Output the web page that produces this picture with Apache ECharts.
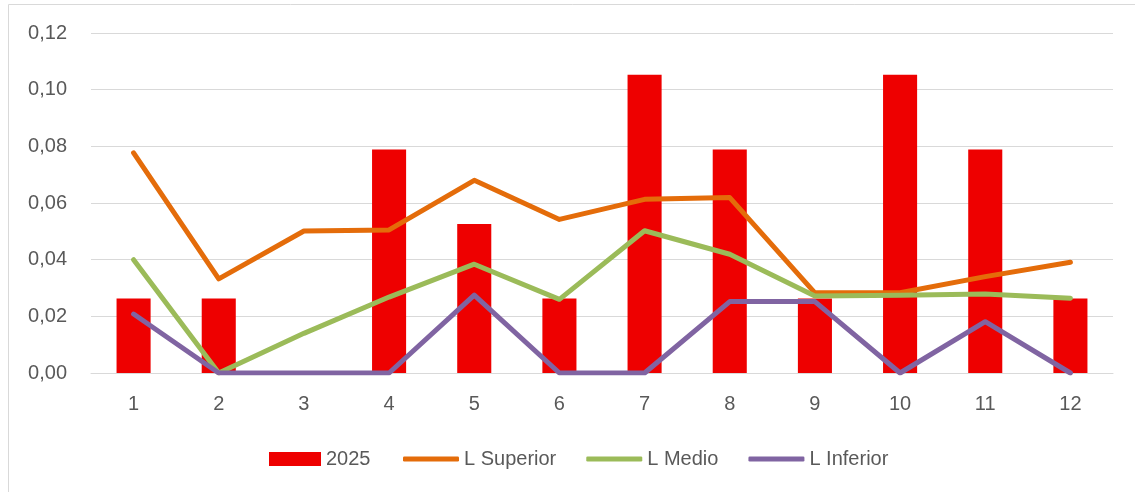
<!DOCTYPE html>
<html>
<head>
<meta charset="utf-8">
<script src="https://cdn.jsdelivr.net/npm/echarts@6/dist/echarts.min.js"></script>
<style>
html,body{margin:0;padding:0;background:#fff;}
#c{width:1135px;height:492px;}
</style>
</head>
<body>
<div id="c"></div>
<script>
var categories = ['1','2','3','4','5','6','7','8','9','10','11','12'];
var values2025 = [0.0263, 0.0263, 0, 0.0789, 0.0526, 0.0263, 0.1053, 0.0789, 0.0263, 0.1053, 0.0789, 0.0263];
var lSuperior = [0.0777, 0.0332, 0.0501, 0.0505, 0.0680, 0.0542, 0.0613, 0.0619, 0.0283, 0.0283, 0.0340, 0.0391];
var lMedio = [0.0400, 0, 0.0140, 0.0268, 0.0384, 0.0260, 0.0502, 0.0419, 0.0272, 0.0274, 0.0279, 0.0264];
var lInferior = [0.0208, 0, 0, 0, 0.0275, 0, 0, 0.0252, 0.0252, 0, 0.0181, 0];
var yTicks = [0, 0.02, 0.04, 0.06, 0.08, 0.10, 0.12];

var font = '"Liberation Sans", Arial, sans-serif';
var chart = echarts.init(document.getElementById('c'));
function lineSeries(name, data, color) {
  return {
    name: name, type: 'line', data: data, symbol: 'none', showSymbol: false,
    lineStyle: {color: color, width: 5, cap: 'round', join: 'round'},
    itemStyle: {color: color},
    z: 3
  };
}
var legendText = {fontFamily: font, fontSize: 20, color: '#595959'};
chart.setOption({
  animation: false,
  graphic: [{
    type: 'polyline', silent: true,
    shape: {points: [[8.5, 500], [8.5, 4.5], [1140, 4.5]]},
    style: {stroke: '#D9D9D9', lineWidth: 1, fill: null}
  }],
  grid: {left: 91, right: 22, top: 33, bottom: 119, containLabel: false},
  legend: [{
    left: 264, top: 444,
    itemWidth: 52, itemHeight: 14,
    textStyle: legendText,
    data: [{name: '2025', icon: 'rect'}]
  }, {
    left: 398, top: 444,
    itemWidth: 56, itemHeight: 5, itemGap: 30,
    textStyle: legendText,
    data: [
      {name: 'L Superior', icon: 'roundRect'},
      {name: 'L Medio', icon: 'roundRect'},
      {name: 'L Inferior', icon: 'roundRect'}
    ]
  }],
  xAxis: {
    type: 'category', data: categories,
    axisLine: {lineStyle: {color: '#D9D9D9', width: 1}},
    axisTick: {show: false},
    axisLabel: {fontFamily: font, fontSize: 20, color: '#595959', margin: 21}
  },
  yAxis: {
    type: 'value', min: 0, max: 0.12, interval: 0.02,
    axisLine: {show: false}, axisTick: {show: false},
    splitLine: {lineStyle: {color: '#D9D9D9', width: 1}},
    axisLabel: {
      fontFamily: font, fontSize: 20, color: '#595959', margin: 24,
      formatter: function (v) {
        var idx = yTicks.findIndex(function (t) { return Math.abs(t - v) < 1e-9; });
        var t = idx >= 0 ? yTicks[idx] : v;
        return t.toFixed(2).replace('.', ',');
      }
    }
  },
  series: [
    {
      name: '2025', type: 'bar', data: values2025, barWidth: '40%',
      itemStyle: {color: '#EE0000'}, z: 2
    },
    lineSeries('L Superior', lSuperior, '#E46C0A'),
    lineSeries('L Medio', lMedio, '#9BBB59'),
    lineSeries('L Inferior', lInferior, '#8064A2')
  ]
});
</script>
</body>
</html>
